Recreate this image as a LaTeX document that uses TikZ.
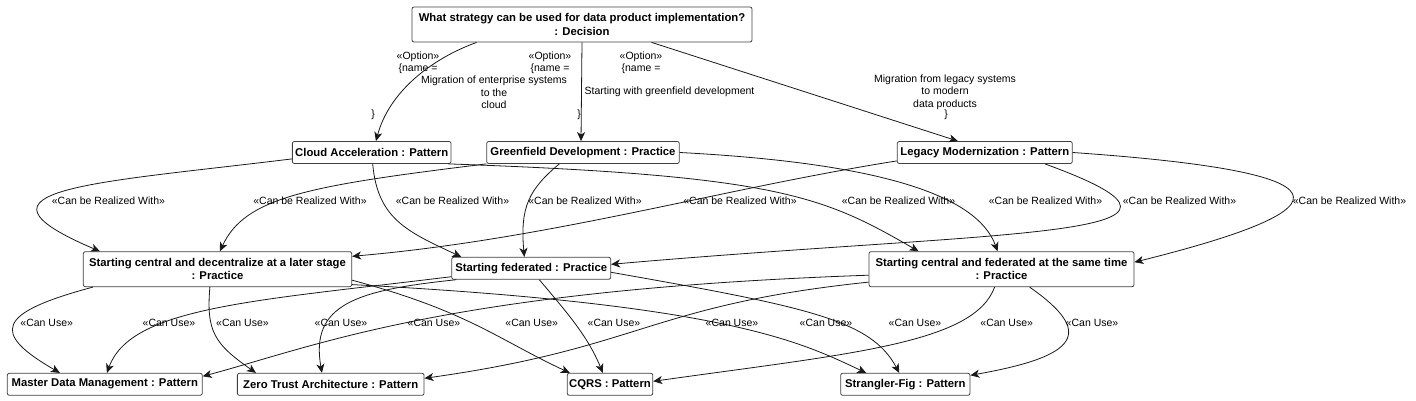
\documentclass[tikz,border=0pt]{standalone}
\usepackage{fontspec}
\setmainfont{Liberation Sans}
\usetikzlibrary{arrows.meta}
\tikzstyle{el} = [rectangle, draw=black!75, fill=white, rounded corners=2pt,
    font=\bfseries\fontsize{11.3}{13.3}\selectfont, align=center, inner sep=2pt, minimum height=22pt]
\tikzstyle{lbl} = [font=\fontsize{10.5}{12.5}\selectfont, align=center, inner sep=0pt]

\begin{document}
\begin{tikzpicture}[x=1pt,y=1pt,->,>={Stealth[length=9pt,width=8pt,inset=2.5pt]},
                    line width=0.8pt,draw=black!90]
  \useasboundingbox (0,0) rectangle (1416,400);

  \node[el,minimum width=340pt,minimum height=35pt] (dec) at (582,375.5) {What strategy can be used for data product implementation?\\: Decision};
  \node[el,minimum width=158.7pt] (cloud)  at (371.7,247.5) {Cloud Acceleration : Pattern};
  \node[el,minimum width=192.6pt] (green)  at (583,247.5)   {Greenfield Development : Practice};
  \node[el,minimum width=175pt]   (legacy) at (984.8,247.5) {Legacy Modernization : Pattern};
  \node[el,minimum width=268.4pt,minimum height=35pt] (scd) at (217.5,130.8) {Starting central and decentralize at a later stage\\: Practice};
  \node[el,minimum width=159pt]   (sf)     at (531.2,131.7) {Starting federated : Practice};
  \node[el,minimum width=265pt,minimum height=35pt] (scfs) at (1001.5,130.8) {Starting central and federated at the same time\\: Practice};
  \node[el,minimum width=195pt]   (mdm)    at (104.8,15.7)  {Master Data Management : Pattern};
  \node[el,minimum width=186.7pt] (zta)    at (330.7,15.7)  {Zero Trust Architecture : Pattern};
  \node[el,minimum width=85.3pt]  (cqrs)   at (610,15.7)    {CQRS : Pattern};
  \node[el,minimum width=129.3pt] (fig)    at (905.3,15.7)  {Strangler-Fig : Pattern};

  % options
  \path ([xshift=65pt]dec.south west) edge[out=200,in=75,out distance=50pt,in distance=50pt] ([xshift=84pt]cloud.north west)
        (dec.south) edge ([xshift=-2pt]green.north)
        ([xshift=240pt]dec.south west) edge ([xshift=61pt]legacy.north west);

  \node[lbl] (o1) at (418,337)   {«Option»\\\{name =};
  \node[lbl] (n1) at (494,307.5) {Migration of enterprise systems\\to the\\cloud};
  \node[lbl] (c1) at (373,285)   {\}};
  \node[lbl] (o2) at (550,337)   {«Option»\\\{name =};
  \node[lbl] (n2) at (669.5,308) {Starting with greenfield development};
  \node[lbl] (c2) at (579,285)   {\}};
  \node[lbl] (o3) at (641,337)   {«Option»\\\{name =};
  \node[lbl] (n3) at (945,308)   {Migration from legacy systems\\to modern\\data products};
  \node[lbl] (c3) at (946,285)   {\}};

  % can be realized with
  \path ([yshift=5pt]cloud.south west) edge[out=187,in=157,out distance=200pt,in distance=160pt] ([xshift=17pt]scd.north west)
        ([xshift=1pt]cloud.south) edge[out=275,in=155,out distance=55pt,in distance=60pt] ([xshift=10pt]sf.north west)
        ([xshift=-3pt]cloud.south east) edge[out=358,in=150,out distance=330pt,in distance=110pt] ([xshift=50pt]scfs.north west)
        (green.south west) edge[out=187,in=65,out distance=180pt,in distance=60pt] ([xshift=137pt]scd.north west)
        ([xshift=73pt]green.south west) edge[out=220,in=95,out distance=40pt,in distance=50pt] ([xshift=73pt]sf.north west)
        (green.east) edge[out=357,in=110,out distance=200pt,in distance=60pt] ([xshift=129pt]scfs.north west)
        ([yshift=3pt]legacy.south west) edge[out=189,in=5,out distance=180pt,in distance=200pt] ([yshift=-5pt]scd.north east)
        ([xshift=148pt]legacy.south west) edge[out=340,in=5,out distance=220pt,in distance=400pt] ([yshift=4pt]sf.east)
        (legacy.east) edge[out=356,in=14,out distance=278pt,in distance=231pt] ([yshift=7pt]scfs.east);

  \node[lbl] (r1) at (108.5,199)  {«Can be Realized With»};
  \node[lbl] (r2) at (310,199)    {«Can be Realized With»};
  \node[lbl] (r3) at (452.5,199)  {«Can be Realized With»};
  \node[lbl] (r4) at (585,199)    {«Can be Realized With»};
  \node[lbl] (r5) at (740,199)    {«Can be Realized With»};
  \node[lbl] (r6) at (898.5,199)  {«Can be Realized With»};
  \node[lbl] (r7) at (1045.5,199) {«Can be Realized With»};
  \node[lbl] (r8) at (1179.5,199) {«Can be Realized With»};
  \node[lbl] (r9) at (1349.5,199) {«Can be Realized With»};

  % can use
  \path ([xshift=10pt]scd.south west) edge[out=195,in=150,out distance=100pt,in distance=80pt] ([xshift=53pt]mdm.north west)
        ([yshift=3pt]sf.south west) edge[out=187,in=70,out distance=200pt,in distance=70pt] ([xshift=100pt]mdm.north west)
        ([xshift=127pt]scd.south west) edge[out=265,in=145,out distance=45pt,in distance=50pt] ([xshift=19pt]zta.north west)
        ([xshift=5pt]sf.south west) edge[out=186,in=100,out distance=100pt,in distance=70pt] ([xshift=85pt]zta.north west)
        ([yshift=-6pt]scfs.west) edge[out=182,in=15,out distance=420pt,in distance=120pt] ([yshift=8pt]mdm.east)
        ([yshift=-11pt]scd.east) edge[out=345,in=155,out distance=120pt,in distance=80pt] ([xshift=3pt]cqrs.north west)
        ([yshift=5pt]scfs.south west) edge[out=186,in=8,out distance=220pt,in distance=220pt] ([yshift=6pt]zta.east)
        ([xshift=88pt]sf.south west) edge[out=310,in=112,out distance=40pt,in distance=40pt] ([xshift=36pt]cqrs.north west)
        ([yshift=2.5pt]scd.south east) edge[out=357,in=155,out distance=380pt,in distance=70pt] ([xshift=26pt]fig.north west)
        ([yshift=-4pt]sf.east) edge[out=350,in=118,out distance=200pt,in distance=60pt] ([xshift=59pt]fig.north west)
        ([xshift=126pt]scfs.south west) edge[out=250,in=8,out distance=60pt,in distance=200pt] ([yshift=3pt]cqrs.east)
        ([xshift=161pt]scfs.south west) edge[out=325,in=10,out distance=80pt,in distance=110pt] ([yshift=9pt]fig.east);

  \node[lbl] (u1)  at (46.7,77)   {«Can Use»};
  \node[lbl] (u2)  at (169,77)    {«Can Use»};
  \node[lbl] (u3)  at (242.5,77)  {«Can Use»};
  \node[lbl] (u4)  at (341,77)    {«Can Use»};
  \node[lbl] (u5)  at (434,77)    {«Can Use»};
  \node[lbl] (u6)  at (531.7,77)  {«Can Use»};
  \node[lbl] (u7)  at (614,77)    {«Can Use»};
  \node[lbl] (u8)  at (732,77)    {«Can Use»};
  \node[lbl] (u9)  at (826,77)    {«Can Use»};
  \node[lbl] (u10) at (915,77)    {«Can Use»};
  \node[lbl] (u11) at (1006.7,77) {«Can Use»};
  \node[lbl] (u12) at (1092,77)   {«Can Use»};
\end{tikzpicture}
\end{document}
